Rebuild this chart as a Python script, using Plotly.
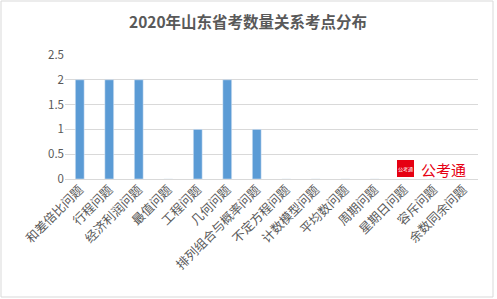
import plotly.graph_objects as go

categories = ["和差倍比问题", "行程问题", "经济利润问题", "最值问题", "工程问题", "几何问题",
              "排列组合与概率问题", "不定方程问题", "计数模型问题", "平均数问题", "周期问题",
              "星期日问题", "容斥问题", "余数同余问题"]
values = [2, 2, 2, 0, 1, 2, 1, 0, 0, 0, 0, 0, 0, 0]
y_ticks = [0, 0.5, 1, 1.5, 2, 2.5]
title = "2020年山东省考数量关系考点分布"

W, H = 497, 299
L, R, T, B = 65, 19, 55, 120
pw, ph = W - L - R, H - T - B

def px(x):
    return (x - L) / pw

def py(y):
    return (H - B - y) / ph

FONT = "Noto Sans CJK SC, Microsoft YaHei, sans-serif"
GREY = "#595959"

fig = go.Figure(go.Bar(x=categories, y=values, marker_color="#5b9bd5", width=0.3))

fig.update_layout(
    width=W, height=H,
    margin=dict(l=L, r=R, t=T, b=B),
    paper_bgcolor="white", plot_bgcolor="white",
    showlegend=False,
    font=dict(family=FONT, color=GREY, size=11),
    xaxis=dict(tickangle=-45, tickfont=dict(size=12.5, color=GREY), showgrid=False,
               showline=False, ticks="", ticklen=0),
    yaxis=dict(range=[0, 2.5], tickvals=y_ticks, ticktext=[str(v) for v in y_ticks],
               showgrid=True, gridcolor="#d9d9d9", gridwidth=1, zeroline=True,
               zerolinecolor="#d9d9d9", zerolinewidth=1,
               tickfont=dict(size=11.5, color=GREY), ticks="", ticklen=0),
    shapes=[
        dict(type="rect", xref="paper", yref="paper", x0=px(1), x1=px(493), y0=py(297), y1=py(1),
             line=dict(color="#d9d9d9", width=1), fillcolor="rgba(0,0,0,0)", layer="below"),
        dict(type="rect", xref="paper", yref="paper", x0=px(397), x1=px(414), y0=py(177), y1=py(160),
             line=dict(color="#e60012", width=0), fillcolor="#e60012"),
    ],
    annotations=[
        dict(text="<b>" + title + "</b>", xref="paper", yref="paper", x=px(248), y=py(21),
             xanchor="center", yanchor="middle", showarrow=False,
             font=dict(size=15.5, color=GREY, family=FONT)),
        dict(text="公考通", xref="paper", yref="paper", x=px(405.5), y=py(168.5),
             xanchor="center", yanchor="middle", showarrow=False,
             font=dict(size=5, color="white", family=FONT)),
        dict(text="公考通", xref="paper", yref="paper", x=px(419), y=py(169),
             xanchor="left", yanchor="middle", showarrow=False,
             font=dict(size=15, color="#e60012", family=FONT)),
    ],
)

fig.write_html("out.html")
